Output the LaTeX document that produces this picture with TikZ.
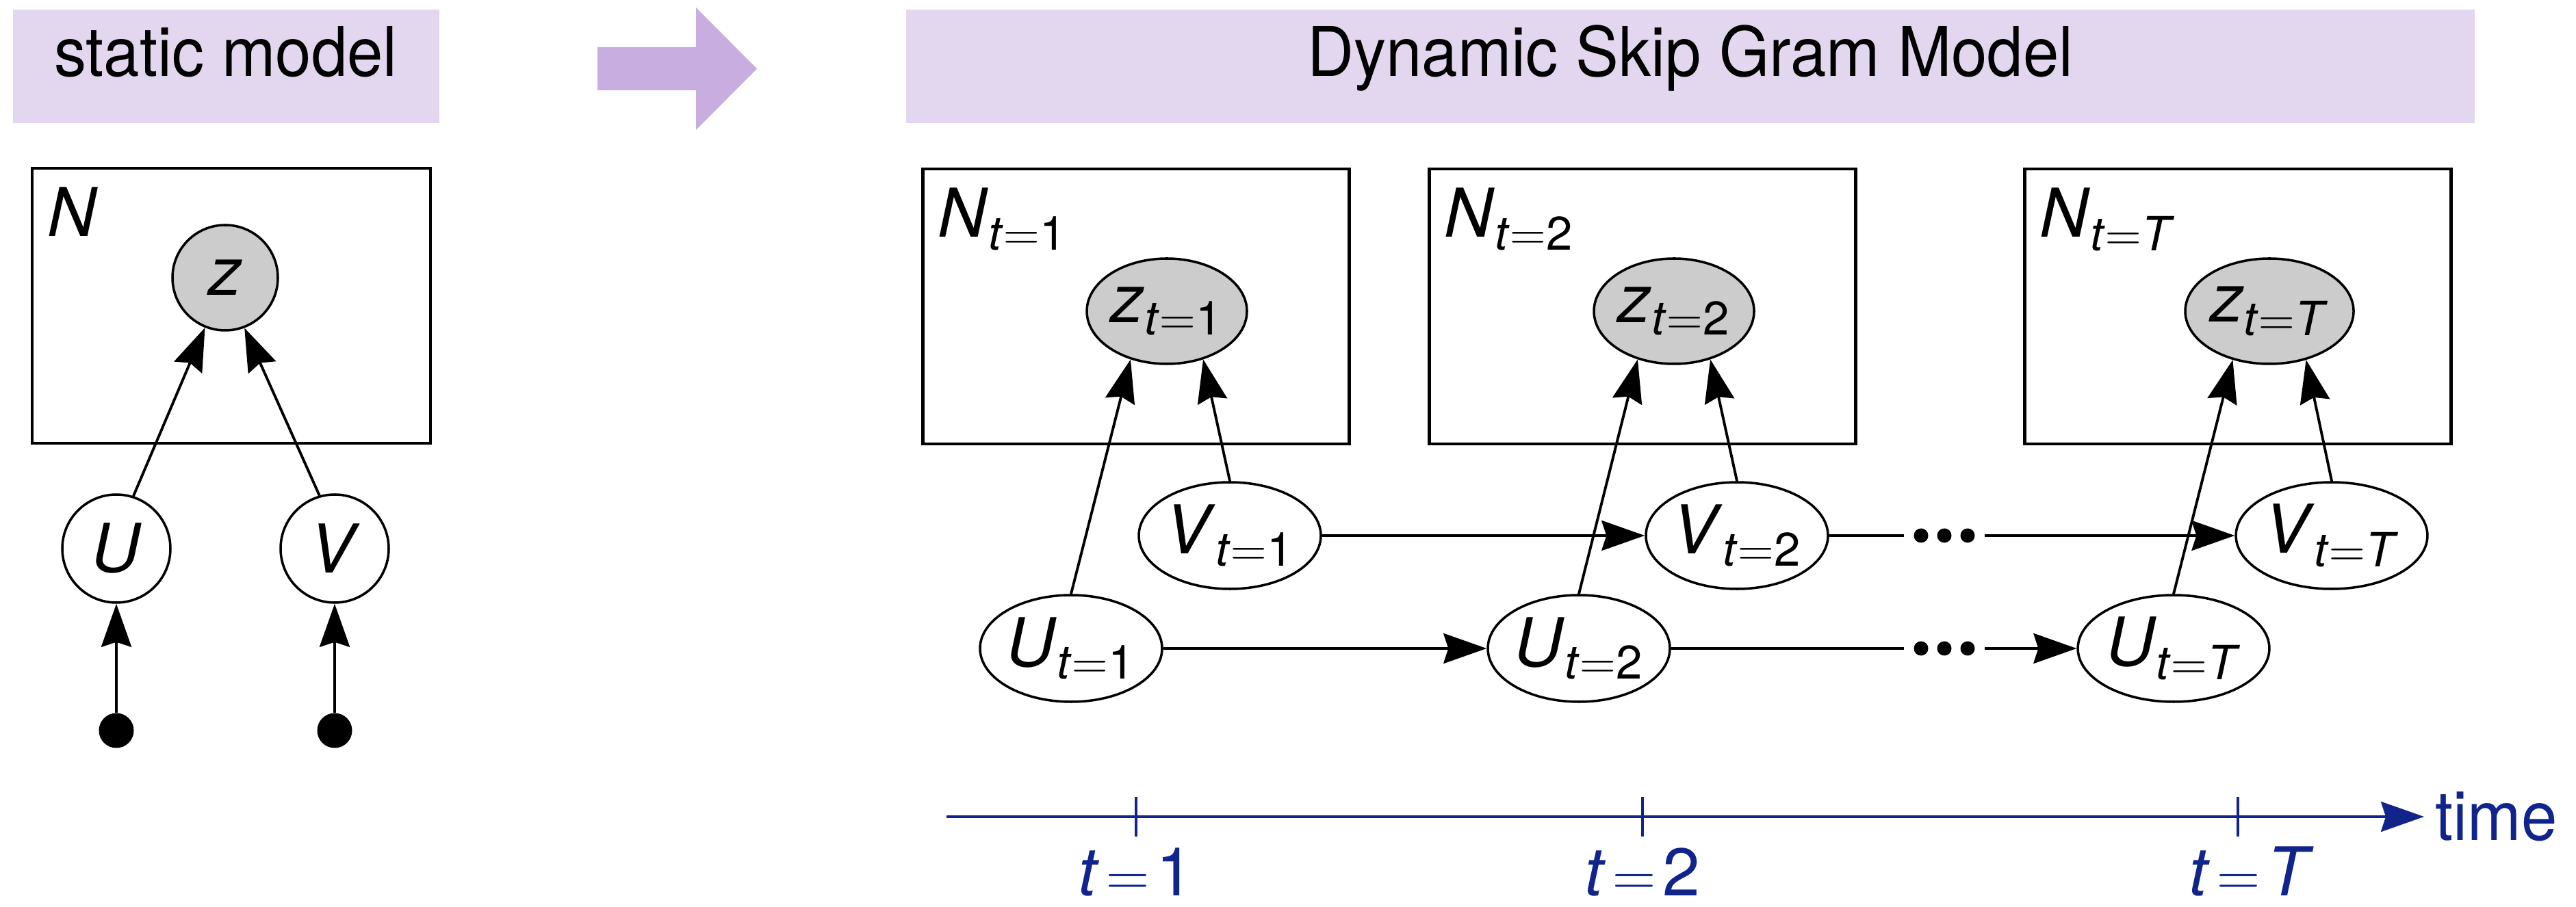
\documentclass[tikz,border=0pt]{standalone}
\usepackage{fontspec}
\setmainfont{TeX Gyre Heros}
\newfontfamily\hdrfont[FakeStretch=0.94]{TeX Gyre Heros}
\usepackage{tikz}
\usetikzlibrary{shapes.geometric, arrows.meta, positioning}
\definecolor{hdrlilac}{RGB}{227,214,239}
\definecolor{mylilac}{RGB}{200,174,224}
\definecolor{obsgray}{RGB}{204,204,204}
\definecolor{timeblue}{RGB}{16,36,140}
\newcommand{\nodefont}{\fontsize{28}{34}\selectfont}
\newcommand{\tv}[2]{\textit{#1}\textsubscript{\textit{t}$=$#2}}
\tikzset{
  header/.style={rectangle, fill=hdrlilac, inner sep=0pt, minimum height=1.66cm,
    text height=0.8em, text depth=0pt, font=\hdrfont\fontsize{28.5}{34}\selectfont},
  plate/.style={rectangle, draw, line width=1.3pt, inner sep=0pt, minimum height=4.02cm},
  platelbl/.style={anchor=base west, inner sep=0pt, font=\nodefont},
  latent/.style={circle, draw, fill=white, line width=1pt, minimum size=1.58cm,
    inner sep=0pt, font=\nodefont},
  obs/.style={latent, fill=obsgray, minimum size=1.54cm},
  tlatent/.style={ellipse, draw, fill=white, line width=1pt, minimum width=2.61cm,
    minimum height=1.56cm, inner sep=0pt, font=\nodefont},
  tobs/.style={tlatent, fill=obsgray, minimum width=2.34cm, minimum height=1.54cm},
  prior/.style={circle, fill=black, minimum size=0.51cm, inner sep=0pt},
  dotgap/.style={rectangle, inner sep=0pt, minimum width=1.17cm, minimum height=0.3cm},
  arrow/.style={-{Stealth[length=0.63cm, width=0.44cm, inset=0.07cm]}, line width=1.1pt},
  line/.style={line width=1.1pt},
  taxis/.style={-{Stealth[length=0.63cm, width=0.44cm, inset=0.07cm]}, line width=1.1pt, color=timeblue},
  tick/.style={line width=0.9pt, color=timeblue},
  tlabel/.style={anchor=base, inner sep=0pt, text=timeblue, font=\nodefont},
  timetext/.style={anchor=west, inner sep=0pt, text=timeblue, font=\hdrfont\fontsize{28.5}{34}\selectfont}
}

\begin{document}
\begin{tikzpicture}
  \useasboundingbox (0,0) rectangle (37.64,-13.26);

  % headers
  \node[header, minimum width=6.23cm] (hdrstatic) at (3.30,-0.97) {static model};
  \node[header, minimum width=22.92cm] (hdrdyn) at (24.70,-0.97) {Dynamic Skip Gram Model};
  \fill[mylilac] (8.73,-0.69) -- (10.17,-0.69) -- (10.17,-0.11) -- (11.06,-1.005)
    -- (10.17,-1.90) -- (10.17,-1.32) -- (8.73,-1.32) -- cycle;

  % static model
  \node[plate, minimum width=5.82cm] (plN) at (3.38,-4.47) {};
  \node[platelbl] (lblN) at ([shift={(0.24,-1.02)}]plN.north west) {\textit{N}};
  \node[obs] (z) at (3.29,-4.06) {\textit{z}};
  \node[latent] (U) at (1.70,-8.02) {\textit{U}};
  \node[latent] (V) at (4.89,-8.02) {\textit{V}};
  \node[prior] (pU) at (1.70,-10.68) {};
  \node[prior] (pV) at (4.89,-10.68) {};

  \draw[arrow] (pU) -- (U);
  \draw[arrow] (pV) -- (V);
  \draw[arrow] (U.72) -- (z.248);
  \draw[arrow] (V.106) -- (z.291);

  % dynamic model
  \node[plate, minimum width=6.23cm] (pl1) at (16.60,-4.48) {};
  \node[plate, minimum width=6.23cm] (pl2) at (24.00,-4.48) {};
  \node[plate, minimum width=6.23cm] (plT) at (32.70,-4.48) {};
  \node[platelbl] (lbl1) at ([shift={(0.24,-1.02)}]pl1.north west) {\tv{N}{1}};
  \node[platelbl] (lbl2) at ([shift={(0.24,-1.02)}]pl2.north west) {\tv{N}{2}};
  \node[platelbl] (lblT) at ([shift={(0.24,-1.02)}]plT.north west) {\tv{N}{\textit{T}}};

  \node[tobs] (z1) at (17.05,-4.55) {\tv{z}{1}};
  \node[tobs] (z2) at (24.46,-4.55) {\tv{z}{2}};
  \node[tobs] (zT) at (33.16,-4.55) {\tv{z}{\textit{T}}};
  \node[tlatent] (V1) at (17.97,-7.83) {\tv{V}{1}};
  \node[tlatent] (V2) at (25.38,-7.83) {\tv{V}{2}};
  \node[tlatent] (VT) at (34.07,-7.83) {\tv{V}{\textit{T}}};
  \node[tlatent] (U1) at (15.65,-9.48) {\tv{U}{1}};
  \node[tlatent] (U2) at (23.07,-9.48) {\tv{U}{2}};
  \node[tlatent] (UT) at (31.76,-9.48) {\tv{U}{\textit{T}}};
  \node[dotgap] (vdots) at (28.41,-7.83) {};
  \node[dotgap] (udots) at (28.41,-9.48) {};
  \fill ([xshift=-0.34cm]vdots.center) circle (0.105) (vdots.center) circle (0.105)
    ([xshift=0.34cm]vdots.center) circle (0.105);
  \fill ([xshift=-0.34cm]udots.center) circle (0.105) (udots.center) circle (0.105)
    ([xshift=0.34cm]udots.center) circle (0.105);

  \draw[arrow] (V1) -- (V2);
  \draw[line] (V2) -- (vdots);
  \draw[arrow] (vdots) -- (VT);
  \draw[arrow] (U1) -- (U2);
  \draw[line] (U2) -- (udots);
  \draw[arrow] (udots) -- (UT);

  \draw[arrow] (U1.north) -- (z1.233);
  \draw[arrow] (V1.north) -- (z1.307);
  \draw[arrow] (U2.north) -- (z2.233);
  \draw[arrow] (V2.north) -- (z2.307);
  \draw[arrow] (UT.north) -- (zT.233);
  \draw[arrow] (VT.north) -- (zT.307);

  % time axis
  \coordinate (tstart) at (13.83,-11.94);
  \coordinate (tend) at (35.42,-11.94);
  \coordinate (t1) at (16.60,-11.94);
  \coordinate (t2) at (24.00,-11.94);
  \coordinate (tT) at (32.70,-11.94);
  \draw[taxis] (tstart) -- (tend);
  \node[timetext, right=0.16cm of tend] (timelbl) {time};
  \draw[tick] ([yshift=0.29cm]t1) -- ([yshift=-0.29cm]t1);
  \draw[tick] ([yshift=0.29cm]t2) -- ([yshift=-0.29cm]t2);
  \draw[tick] ([yshift=0.29cm]tT) -- ([yshift=-0.29cm]tT);
  \node[tlabel] (lt1) at ([yshift=-1.15cm]t1) {\textit{t}\kern0.1em$=$\kern0.1em1};
  \node[tlabel] (lt2) at ([yshift=-1.15cm]t2) {\textit{t}\kern0.1em$=$\kern0.1em2};
  \node[tlabel] (ltT) at ([shift={(0.2,-1.15)}]tT) {\textit{t}\kern0.1em$=$\kern0.1em\textit{T}};
\end{tikzpicture}
\end{document}
